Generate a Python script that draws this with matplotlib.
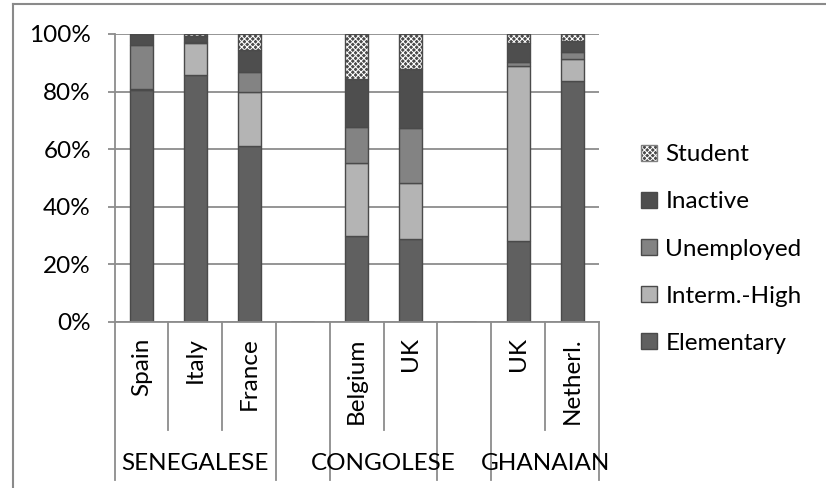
import numpy as np
import matplotlib
matplotlib.use("Agg")
import matplotlib.pyplot as plt
from matplotlib.lines import Line2D
from matplotlib.patches import Patch
from matplotlib.ticker import PercentFormatter
import matplotlib.transforms as mtransforms

plt.rcParams['font.family'] = ['Lato', 'DejaVu Sans']
plt.rcParams['hatch.linewidth'] = 0.75

# categories (empty slots are the gaps between groups)
countries = ['Spain', 'Italy', 'France', '', 'Belgium', 'UK', '', 'UK', 'Netherl.']
groups = ['SENEGALESE', '', 'CONGOLESE', '', 'GHANAIAN']
group_sizes = [3, 1, 2, 1, 2]

# shares in percent, per slot
elementary = [80.5, 85.6, 61.2, 0, 30.0, 28.7, 0, 28.1, 83.8]
interm_high = [0.4, 11.3, 18.8, 0, 25.3, 19.7, 0, 60.8, 7.4]
unemployed = [15.2, 0.3, 6.7, 0, 12.5, 18.8, 0, 1.5, 2.7]
inactive = [3.9, 2.1, 7.7, 0, 16.6, 20.5, 0, 6.4, 3.7]
student = [0.0, 0.7, 5.6, 0, 15.6, 12.3, 0, 3.2, 2.4]

series = [
    ('Elementary', elementary, '#606060'),
    ('Interm.-High', interm_high, '#b4b4b4'),
    ('Unemployed', unemployed, '#838383'),
    ('Inactive', inactive, '#4e4e4e'),
]

grid_col = '#8c8c8c'
edge_col = '#4a4a4a'
stud_face = '#4a4a4a'
stud_hatch = 'xxxxxx'
fs = 17.5

fig = plt.figure(figsize=(8.26, 4.88), dpi=100)
ax = fig.add_axes([114.5 / 826, 1 - 322 / 488, (599 - 114.5) / 826, 288 / 488])

x = np.arange(len(countries))
w = 0.43
bottom = np.zeros(len(countries))
handles = []
labels = []
for name, vals, col in series:
    vals = np.array(vals)
    h = ax.bar(x, vals, w, bottom=bottom, color=col, edgecolor=edge_col,
               linewidth=1.0, zorder=3)
    handles.append(h)
    labels.append(name)
    bottom += vals

# student: checker pattern, drawn as hatch then outline
vals = np.array(student)
ax.bar(x, vals, w, bottom=bottom, color=stud_face, edgecolor='white',
       hatch=stud_hatch, linewidth=0, zorder=3)
ax.bar(x, vals, w, bottom=bottom, color='none', edgecolor=edge_col,
       linewidth=1.0, zorder=4)
handles.append((Patch(facecolor=stud_face, edgecolor='white', hatch=stud_hatch, linewidth=0),
                Patch(facecolor='none', edgecolor='#808080', linewidth=1.0)))
labels.append('Student')

ax.set_xlim(-0.5, len(countries) - 0.5)
ax.set_ylim(0, 100)
ax.set_yticks(np.arange(0, 101, 20))
ax.yaxis.set_major_formatter(PercentFormatter(xmax=100, decimals=0))
ax.yaxis.grid(True, color=grid_col, linewidth=1.3, zorder=0)
ax.set_axisbelow(True)
for s in ['top', 'right', 'bottom']:
    ax.spines[s].set_visible(False)
ax.spines['left'].set_color(grid_col)
ax.spines['left'].set_linewidth(1.3)
ax.tick_params(axis='y', length=5, width=1.3, color=grid_col, pad=12,
               labelsize=fs)

ax.set_xticks(x)
ax.set_xticklabels(countries, rotation=90, fontsize=fs)
ax.tick_params(axis='x', length=0, pad=11)

# category axis box below the plot
trans = mtransforms.blended_transform_factory(ax.transData, ax.transAxes)
short_y = (322 - 430) / 288
long_y = (322 - 480) / 288
ax.plot([-0.5, len(countries) - 0.5], [0, 0], color=grid_col, lw=1.3,
        transform=trans, clip_on=False, zorder=5)
edges = np.cumsum([0] + group_sizes)
for b in range(len(countries) + 1):
    y_end = long_y if b in edges else short_y
    ax.plot([b - 0.5, b - 0.5], [0, y_end], color=grid_col, lw=1.3,
            transform=trans, clip_on=False)
for g, a, b in zip(groups, edges[:-1], edges[1:]):
    if g:
        ax.text((a + b - 1) / 2, (322 - 463) / 288, g, transform=trans,
                ha='center', va='center', fontsize=fs)

ax.legend(handles[::-1], labels[::-1],
          loc='center left', bbox_to_anchor=(641 / 826, 1 - 249 / 488),
          bbox_transform=fig.transFigure, frameon=False, fontsize=fs,
          handlelength=0.65, handleheight=0.65, handletextpad=0.35,
          labelspacing=1.07, borderpad=0, borderaxespad=0)

# outer chart frame (cut off at right and bottom)
fx = 13 / 826
fy = 1 - 4 / 488
fig.add_artist(Line2D([fx, fx], [0, fy], color='#8a8a8a', lw=1.5))
fig.add_artist(Line2D([fx, 1], [fy, fy], color='#8a8a8a', lw=1.5))

fig.savefig('out.png', dpi=100)
